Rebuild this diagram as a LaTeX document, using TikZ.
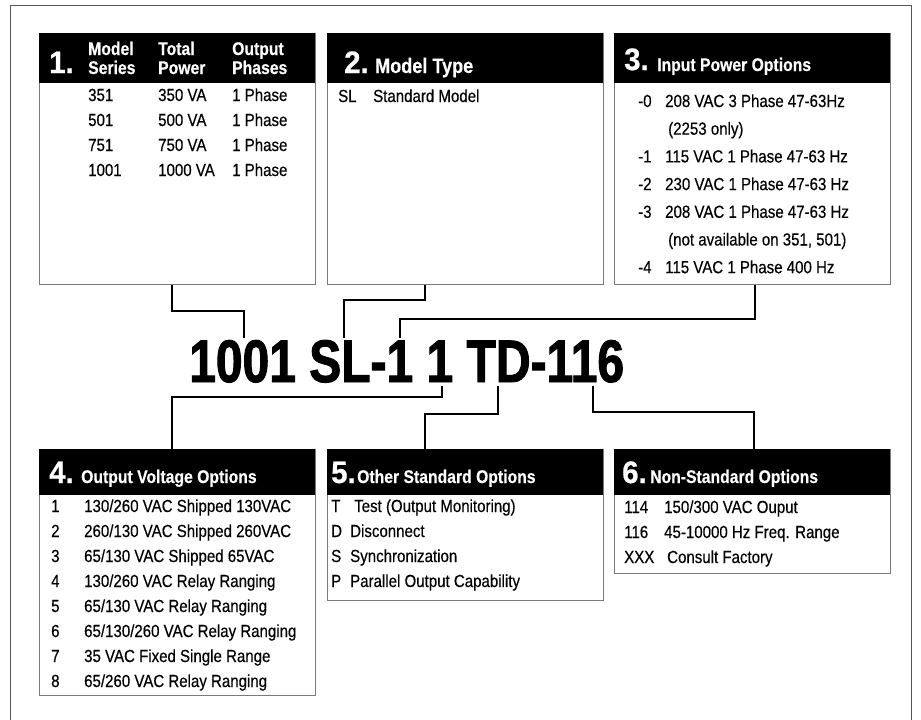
\documentclass[tikz,border=0pt]{standalone}
\usepackage{fontspec}
\setmainfont{Liberation Sans}[FakeStretch=0.86,FakeBold=0.4]
\newfontfamily\codefont{Liberation Sans}[UprightFont=* Bold,FakeStretch=0.8,FakeBold=1.6]
\newfontfamily\numfamily{Liberation Sans}[UprightFont=* Bold,FakeStretch=0.95,FakeBold=0.6]
\usepackage{xcolor}
\definecolor{boxline}{HTML}{7A7A7A}
\definecolor{frameline}{HTML}{555555}
\usetikzlibrary{positioning,calc}
\newcommand{\bodyfont}{\fontsize{17.5}{25}\selectfont}
\newcommand{\titlefont}{\bfseries\fontsize{18.3}{19}\selectfont}
\newcommand{\numfont}{\numfamily\fontsize{31}{31}\selectfont}
\tikzset{
  optbox/.style={draw=boxline,line width=1.2pt,anchor=north west,inner sep=0pt,minimum width=276pt},
  hdbar/.style={fill=black,anchor=north west,inner sep=0pt,minimum width=276pt},
  num/.style={anchor=base west,inner sep=0pt,text=white,font=\numfont},
  ttl/.style={anchor=base west,inner sep=0pt,text=white,font=\titlefont},
  txt/.style={anchor=base west,inner sep=0pt,font=\bodyfont},
  link/.style={draw=black,line width=2pt},
}

\begin{document}
\begin{tikzpicture}[x=1pt,y=-1pt]
\useasboundingbox (0,0) rectangle (921,720);
\draw[frameline,line width=1pt] (10,725) -- (10,5) -- (911,5) -- (911,725);

% top row
\node[optbox,minimum height=251pt] (bx1) at (39,33) {};
\node[hdbar,minimum height=50pt] (hd1) at (39,33) {};
\node[num] (n1) at (49,73) {1.};
\node[ttl] (ttl1) at (88,55) {\begin{tabular}[t]{@{}p{70pt}@{}p{74pt}@{}l@{}}
Model&Total&Output\\
Series&Power&Phases
\end{tabular}};
\node[txt] (lst1) at (88,101) {\begin{tabular}[t]{@{}p{70pt}@{}p{74pt}@{}l@{}}
351&350 VA&1 Phase\\
501&500 VA&1 Phase\\
751&750 VA&1 Phase\\
1001&1000 VA&1 Phase
\end{tabular}};

\node[optbox,minimum height=251pt] (bx2) at (327,33) {};
\node[hdbar,minimum height=50pt] (hd2) at (327,33) {};
\node[num] (n2) at (344,73) {2.};
\node[ttl,font=\bfseries\fontsize{21}{21}\selectfont] (ttl2) at (375,73) {Model Type};
\node[txt] (lst2) at (338,102) {\begin{tabular}[t]{@{}p{35pt}@{}l@{}}
SL&Standard Model
\end{tabular}};

\node[optbox,minimum height=251pt] (bx3) at (614,33) {};
\node[hdbar,minimum height=50pt] (hd3) at (614,33) {};
\node[num] (n3) at (624,70) {3.};
\node[ttl] (ttl3) at (657,71) {Input Power Options};
\node[txt,font=\fontsize{17.5}{27.7}\selectfont] (lst3) at (638,107) {\begin{tabular}[t]{@{}p{27pt}@{}l@{}}
-0&208 VAC 3 Phase 47-63Hz\\
&\hspace{3pt}(2253 only)\\
-1&115 VAC 1 Phase 47-63 Hz\\
-2&230 VAC 1 Phase 47-63 Hz\\
-3&208 VAC 1 Phase 47-63 Hz\\
&\hspace{3pt}(not available on 351, 501)\\
-4&115 VAC 1 Phase 400 Hz
\end{tabular}};

% model code
\node[anchor=base west,inner sep=0pt,font=\codefont\fontsize{60}{60}\selectfont] (code) at (189,382) {1001 SL-1 1 TD-116};
\coordinate (tapSeries) at (244,338);
\coordinate (tapType) at (344,338);
\coordinate (tapInput) at (400,338);
\coordinate (tapVolt) at (442,386);
\coordinate (tapStd) at (498,386);
\coordinate (tapNonStd) at (593,386);

% bottom row
\node[optbox,minimum height=246pt] (bx4) at (39,449) {};
\node[hdbar,minimum height=46pt] (hd4) at (39,449) {};
\node[num] (n4) at (49,483) {4.};
\node[ttl] (ttl4) at (81,483) {Output Voltage Options};
\node[txt] (lst4) at (51,512) {\begin{tabular}[t]{@{}p{33pt}@{}l@{}}
1&130/260 VAC Shipped 130VAC\\
2&260/130 VAC Shipped 260VAC\\
3&65/130 VAC Shipped 65VAC\\
4&130/260 VAC Relay Ranging\\
5&65/130 VAC Relay Ranging\\
6&65/130/260 VAC Relay Ranging\\
7&35 VAC Fixed Single Range\\
8&65/260 VAC Relay Ranging
\end{tabular}};

\node[optbox,minimum height=151pt] (bx5) at (327,449) {};
\node[hdbar,minimum height=46pt] (hd5) at (327,449) {};
\node[num] (n5) at (331,483) {5.};
\node[ttl] (ttl5) at (357,483) {Other Standard Options};
\node[txt] (lst5) at (331,512) {\begin{tabular}[t]{@{}p{19pt}@{}l@{}}
T&\hspace{4pt}Test (Output Monitoring)\\
D&Disconnect\\
S&Synchronization\\
P&Parallel Output Capability
\end{tabular}};

\node[optbox,minimum height=124pt] (bx6) at (614,449) {};
\node[hdbar,minimum height=46pt] (hd6) at (614,449) {};
\node[num] (n6) at (622,483) {6.};
\node[ttl] (ttl6) at (650,483) {Non-Standard Options};
\node[txt] (lst6) at (624,513) {\begin{tabular}[t]{@{}p{40pt}@{}l@{}}
114&150/300 VAC Ouput\\
116&45-10000 Hz Freq. Range\\
XXX&\hspace{3pt}Consult Factory
\end{tabular}};

% connectors
\draw[link] ([xshift=-6pt]bx1.south) -- ++(0,26) -| (tapSeries);
\draw[link] ([xshift=-41pt]bx2.south) -- ++(0,15) -| (tapType);
\draw[link] ([xshift=2pt]bx3.south) -- ++(0,34) -| (tapInput);
\draw[link] (tapVolt) -- ++(0,11) -| ([xshift=-5pt]hd4.north);
\draw[link] (tapStd) -- ++(0,28) -| ([xshift=-40pt]hd5.north);
\draw[link] (tapNonStd) -- ++(0,26) -| ([xshift=2pt]hd6.north);
\end{tikzpicture}
\end{document}
